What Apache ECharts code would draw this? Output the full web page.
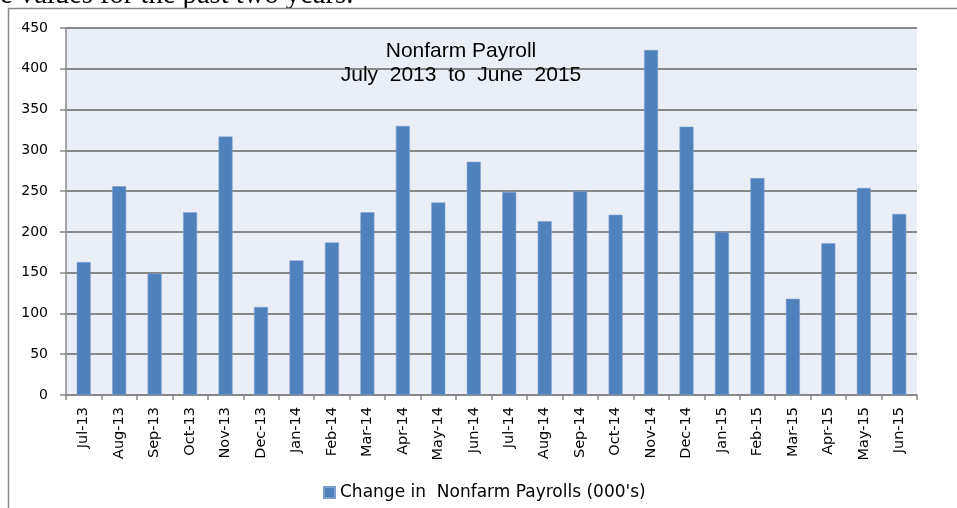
<!DOCTYPE html>
<html>
<head>
<meta charset="utf-8">
<script src="https://cdn.jsdelivr.net/npm/echarts@6/dist/echarts.min.js"></script>
<style>
  html, body { margin: 0; padding: 0; background: #fff; }
  #main { width: 957px; height: 508px; }
</style>
</head>
<body>
<div id="main"></div>
<script>
// 月份
var months = ['Jul-13', 'Aug-13', 'Sep-13', 'Oct-13', 'Nov-13', 'Dec-13',
    'Jan-14', 'Feb-14', 'Mar-14', 'Apr-14', 'May-14', 'Jun-14',
    'Jul-14', 'Aug-14', 'Sep-14', 'Oct-14', 'Nov-14', 'Dec-14',
    'Jan-15', 'Feb-15', 'Mar-15', 'Apr-15', 'May-15', 'Jun-15'];

// 非农就业人数变化（千人）
var payrolls = [163, 256, 149, 224, 317, 108,
    165, 187, 224, 330, 236, 286,
    249, 213, 250, 221, 423, 329,
    200, 266, 118, 186, 254, 222];

var yTicks = { min: 0, max: 450, step: 50 };

var seriesName = "Change in  Nonfarm Payrolls (000's)";
var titleLines = ['Nonfarm Payroll', 'July  2013  to  June  2015'];

var myChart = echarts.init(document.getElementById('main'));

var labelFont = '"DejaVu Sans", sans-serif';
var gray = '#888888';

option = {
    backgroundColor: '#ffffff',
    animation: false,
    title: {
        text: titleLines.join('\n'),
        left: 456,
        top: 34,
        textAlign: 'center',
        textStyle: {
            fontFamily: '"Liberation Sans", Arial, sans-serif',
            fontSize: 21,
            fontWeight: 'normal',
            color: '#000',
            lineHeight: 24
        }
    },
    legend: {
        data: [seriesName],
        left: 323,
        top: 484,
        padding: 0,
        icon: 'rect',
        itemWidth: 11,
        itemHeight: 11,
        itemGap: 5,
        textStyle: {
            fontFamily: labelFont,
            fontSize: 17,
            color: '#000'
        }
    },
    grid: {
        left: 66,
        right: 40,
        top: 28,
        bottom: 113,
        show: true,
        backgroundColor: '#eaeff7',
        borderWidth: 0
    },
    xAxis: {
        type: 'category',
        data: months,
        axisLine: { lineStyle: { color: gray, width: 1.5 } },
        axisTick: { show: true, length: 5, lineStyle: { color: gray, width: 1.5 } },
        axisLabel: {
            rotate: 90,
            margin: 12,
            interval: 0,
            fontFamily: labelFont,
            fontSize: 14.5,
            color: '#000'
        }
    },
    yAxis: {
        type: 'value',
        min: yTicks.min,
        max: yTicks.max,
        interval: yTicks.step,
        axisLine: { show: true, lineStyle: { color: gray, width: 1.5 } },
        axisTick: { show: true, length: 6, lineStyle: { color: gray, width: 1.5 } },
        axisLabel: {
            margin: 18,
            fontFamily: labelFont,
            fontSize: 14,
            color: '#000'
        },
        splitLine: { lineStyle: { color: gray, width: 1.8 } }
    },
    series: [{
        name: seriesName,
        type: 'bar',
        data: payrolls,
        barWidth: 14,
        itemStyle: {
            color: '#4f81bd',
            borderColor: '#7f9fcf',
            borderWidth: 0.6
        }
    }],
    graphic: [
        {
            // 被截断的正文
            type: 'text',
            x: 0,
            y: -5,
            style: {
                text: 'e values for the past two years.',
                fontFamily: '"Liberation Serif", "Times New Roman", serif',
                fontSize: 28.6,
                fill: '#000',
                align: 'left',
                verticalAlign: 'middle'
            }
        },
        {
            type: 'polyline',
            shape: { points: [[8.5, 508], [8.5, 8.5], [957, 8.5]] },
            style: { stroke: gray, lineWidth: 1.5, fill: null }
        }
    ]
};

myChart.setOption(option);
</script>
</body>
</html>
